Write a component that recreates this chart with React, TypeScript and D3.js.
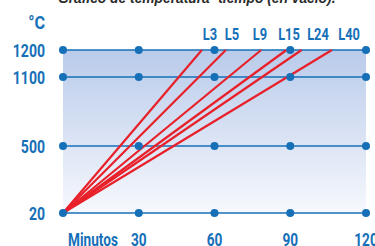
import React from "react";
import * as d3 from "d3";

// reading of the chart
const minuteTicks = [0, 30, 60, 90, 120];
const minuteLabels = ["Minutos", "30", "60", "90", "120"];
const tempTicks = [20, 500, 1100, 1200];
const curveNames = ["L3", "L5", "L9", "L15", "L24", "L40"];
const minutesTo1200 = [55, 64.5, 78.5, 88.5, 94.5, 106.5];
const labelAtMinute = [58.2, 66.9, 78, 89.5, 101, 113.3];

const W = 375;
const H = 246;
const blue = "#1670b8";
const red = "#e8202a";
const font = "'Roboto', sans-serif";

// condensed bold text, squeezed horizontally
function CText(props: { x: number; y: number; size: number; anchor?: string; children: any; sx?: number }) {
	const sx = props.sx || 0.78;
	return (
		<g transform={"translate(" + props.x + "," + props.y + ") scale(" + sx + ",1)"}>
			<text textAnchor={props.anchor || "middle"} fontFamily={font} fontWeight="bold" fontSize={props.size} fill={blue}>{props.children}</text>
		</g>
	);
}

export default function App() {
	const x = d3.scaleLinear().domain([0, 120]).range([63, 366]);
	// spacing between the temperature lines is not proportional
	const y = d3.scaleLinear().domain([20, 500, 1100, 1200]).range([213, 146, 77, 50]);

	const line = d3.line<[number, number]>().x(d => x(d[0])).y(d => y(d[1]));

	return (
		<svg width={W} height={H} style={{ position: "absolute", left: 0, top: 0, display: "block" }}>
			<defs>
				<linearGradient id="bg" x1="0" y1="0" x2="0" y2="1">
					<stop offset="0%" stopColor="#b9cbea" />
					<stop offset="100%" stopColor="#f6f8fd" />
				</linearGradient>
			</defs>
			<rect width={W} height={H} fill="white" />
			<g transform="translate(58,3) scale(0.92,1)">
				<text fontFamily="'Liberation Sans', sans-serif" fontStyle="italic" fontWeight="bold" fontSize={15} fill="#2b2b2b">
					Gráfico de temperatura- tiempo (en vacío).
				</text>
			</g>
			<rect x={x(0)} y={y(1200)} width={x(120) - x(0)} height={y(20) - y(1200)} fill="url(#bg)" />

			{tempTicks.map(t => (
				<g key={t}>
					<line x1={x(0)} x2={x(120)} y1={y(t)} y2={y(t)} stroke={blue} strokeWidth={1.6} />
					<CText x={45} y={y(t) + 6.5} size={18} anchor="end">{t}</CText>
				</g>
			))}
			<CText x={45} y={29} size={19} anchor="end" sx={0.85}>°C</CText>

			{minutesTo1200.map((m, i) => (
				<path key={curveNames[i]} d={line([[0, 20], [m, 1200]]) || ""} stroke={red} strokeWidth={2.2} fill="none" />
			))}

			{tempTicks.map(t => minuteTicks.map(m => (
				<circle key={t + "-" + m} cx={x(m)} cy={y(t)} r={4} fill={blue} />
			)))}

			{curveNames.map((n, i) => (
				<CText key={n} x={x(labelAtMinute[i])} y={39.5} size={16.5}>{n}</CText>
			))}

			{minuteTicks.map((m, i) => (
				<CText key={m} x={i === 0 ? 68 : x(m)} y={245.5} size={17.5} anchor={i === 0 ? "start" : "middle"}>{minuteLabels[i]}</CText>
			))}
		</svg>
	);
}
